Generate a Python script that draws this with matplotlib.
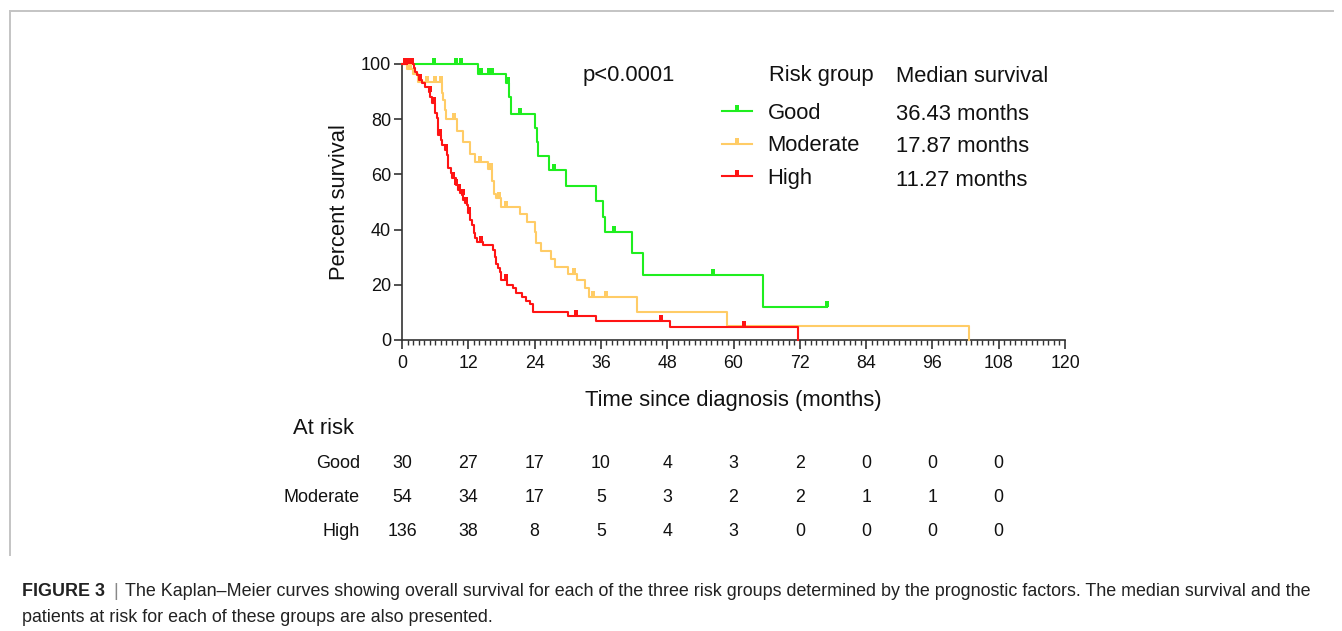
import numpy as np
import matplotlib
matplotlib.use("Agg")
import matplotlib.pyplot as plt
from matplotlib.path import Path
from matplotlib.lines import Line2D
from matplotlib.transforms import blended_transform_factory

plt.rcParams['font.family'] = ['Liberation Sans', 'DejaVu Sans']

W, H = 1342, 631

# ---------------- data ----------------
groups = ["Good", "Moderate", "High"]
colors = ["#1FEE1F", "#FFCC66", "#FF1414"]
medians = ["36.43 months", "17.87 months", "11.27 months"]

good_t = [13.8, 18.9, 19.4, 19.8, 24.1, 24.4, 24.7, 26.6, 29.6, 35.1, 36.4, 36.8, 41.7, 43.6, 65.3]
good_s = [96.3, 93.0, 87.9, 82.0, 76.7, 71.8, 66.8, 61.6, 55.8, 50.2, 44.7, 39.0, 31.4, 23.4, 12.0]
good_end = 77.0
good_cens = [5.8, 9.7, 10.7, 14.3, 15.7, 16.3, 19.1, 21.4, 27.5, 38.4, 56.2, 77.0]

mod_t = [0.9, 2.0, 2.9, 7.2, 7.4, 7.7, 8.0, 10.0, 11.1, 12.3, 13.2, 15.5, 16.3, 16.6, 17.0,
         17.9, 21.4, 22.6, 24.1, 24.3, 25.1, 27.0, 27.7, 30.0, 31.6, 33.1, 33.9, 42.5, 58.8, 102.6]
mod_s = [98.1, 96.3, 93.5, 89.5, 87.0, 83.5, 80.0, 75.8, 71.9, 67.5, 64.6, 62.0, 57.5, 53.0, 51.3,
         48.3, 45.7, 42.9, 39.0, 35.2, 32.4, 29.3, 26.6, 23.8, 21.7, 18.7, 15.5, 10.3, 5.2, 0.0]
mod_end = 102.6
mod_cens = [0.6, 1.4, 4.5, 6.0, 7.1, 9.4, 14.2, 16.1, 17.6, 18.8, 31.2, 34.6, 37.0]

high_t = [2.1, 2.4, 2.7, 3.1, 3.6, 4.2, 4.8, 5.1, 5.4, 5.9, 6.3, 6.5, 6.6, 7.0, 7.2, 7.7, 8.1,
          8.3, 8.4, 8.8, 9.1, 9.7, 10.2, 10.5, 10.8, 11.1, 11.4, 11.7, 12.0, 12.3, 12.7, 13.0,
          13.3, 13.5, 14.7, 16.5, 16.8, 17.1, 17.4, 17.7, 18.0, 19.0, 20.0, 20.6, 21.7, 22.5,
          23.2, 23.8, 30.0, 35.1, 48.5, 71.7]
high_s = [98.4, 97.0, 96.0, 94.2, 93.0, 91.5, 90.0, 88.0, 85.8, 82.1, 80.3, 77.0, 74.3, 72.5,
          70.7, 69.0, 67.0, 64.5, 62.2, 60.4, 58.6, 56.2, 54.3, 53.4, 52.5, 50.7, 49.5, 48.9,
          45.9, 43.5, 41.7, 38.7, 37.0, 35.6, 34.4, 32.6, 30.2, 27.5, 26.0, 24.7, 21.7, 19.9,
          18.7, 16.9, 15.5, 14.2, 13.0, 10.3, 8.8, 7.0, 4.8, 0.0]
high_end = 71.7
high_cens = [0.5, 1.1, 1.8, 3.3, 5.0, 5.8, 6.9, 7.9, 9.3, 9.7, 10.4, 11.0, 11.6, 12.2,
             14.3, 18.8, 31.5, 46.8, 61.9]

risk_times = [0, 12, 24, 36, 48, 60, 72, 84, 96, 108]
risk_good = [30, 27, 17, 10, 4, 3, 2, 0, 0, 0]
risk_mod = [54, 34, 17, 5, 3, 2, 2, 1, 1, 0]
risk_high = [136, 38, 8, 5, 4, 3, 0, 0, 0, 0]

x_ticks = list(range(0, 121, 12))
y_ticks = [0, 20, 40, 60, 80, 100]

caption_bold = "FIGURE 3"
caption_l1 = ("The Kaplan\u2013Meier curves showing overall survival for each of the three risk groups "
              "determined by the prognostic factors. The median survival and the")
caption_l2 = "patients at risk for each of these groups are also presented."

# ---------------- helpers ----------------
def fx(px):
    return px / W

def fy(py):
    return 1 - py / H

cens_marker = Path([(-0.3, 0), (0.3, 0), (0.3, 1), (-0.3, 1), (-0.3, 0)],
                   [Path.MOVETO, Path.LINETO, Path.LINETO, Path.LINETO, Path.CLOSEPOLY])

fig = plt.figure(figsize=(W / 100, H / 100), dpi=100)
fig.patch.set_facecolor("white")

# frame around figure panel
fig.add_artist(Line2D([fx(9.5), fx(1333)], [fy(10.5), fy(10.5)], transform=fig.transFigure,
                      color="#c4c4c4", lw=1.4))
fig.add_artist(Line2D([fx(9.5), fx(9.5)], [fy(10.5), fy(555)], transform=fig.transFigure,
                      color="#c4c4c4", lw=1.4))

ax = fig.add_axes([fx(402), fy(340), (1065 - 402) / W, (340 - 64) / H])
ax.set_xlim(0, 120)
ax.set_ylim(0, 100)

series = [
    (good_t, good_s, good_end, good_cens),
    (mod_t, mod_s, mod_end, mod_cens),
    (high_t, high_s, high_end, high_cens),
]

MS = 9
handles = []
for (t, s, end, cens), col, name in zip(series, colors, groups):
    xs = np.array([0.0] + list(t))
    ys = np.array([100.0] + list(s))
    if end > xs[-1]:
        xs = np.append(xs, end)
        ys = np.append(ys, ys[-1])
    ax.plot(xs, ys, drawstyle="steps-post", color=col, lw=1.5, clip_on=False, zorder=3)
    ct = np.array(cens)
    idx = np.searchsorted(xs, ct, side="right") - 1
    cy = ys[idx]
    ax.plot(ct, cy, linestyle="none", marker=cens_marker, ms=MS, mew=0,
            color=col, clip_on=False, zorder=4)
    handles.append(Line2D([0], [0], color=col, lw=1.5, marker=cens_marker, ms=MS, mew=0))

# axes styling
for side in ["top", "right"]:
    ax.spines[side].set_visible(False)
for side in ["left", "bottom"]:
    ax.spines[side].set_color("#333333")
    ax.spines[side].set_linewidth(1.2)

ax.set_xticks(x_ticks)
ax.set_xticks(np.arange(0, 121, 1), minor=True)
ax.set_yticks(y_ticks)
ax.tick_params(axis="x", which="major", direction="out", length=6.5, width=1.2,
               color="#333333", labelsize=12.8, pad=4, labelcolor="#111111")
ax.tick_params(axis="x", which="minor", direction="out", length=3.5, width=1.0, color="#333333")
ax.tick_params(axis="y", which="major", direction="out", length=6, width=1.2,
               color="#333333", labelsize=13, pad=2, labelcolor="#111111")

ax.set_xlabel("Time since diagnosis (months)", fontsize=15.8, color="#111111", labelpad=13)
ax.set_ylabel("Percent survival", fontsize=15.8, color="#111111", labelpad=7.5)

# p-value and legend
fig.text(fx(583), fy(76), "p<0.0001", fontsize=15.8, va="center", ha="left", color="#111111")
fig.text(fx(769), fy(76), "Risk group", fontsize=15.8, va="center", ha="left", color="#111111")
fig.text(fx(896), fy(76), "Median survival", fontsize=15.8, va="center", ha="left", color="#111111")

leg = ax.legend(handles, groups, loc="upper left", bbox_to_anchor=(fx(722), fy(103)),
                bbox_transform=fig.transFigure, frameon=False, fontsize=15.8,
                handlelength=1.36, handletextpad=0.72, labelspacing=0.52,
                borderpad=0, borderaxespad=0, numpoints=1)
for txt in leg.get_texts():
    txt.set_color("#111111")

row_y = [114, 147, 180]
for m, yy in zip(medians, row_y):
    fig.text(fx(896), fy(yy), m, fontsize=15.8, va="center", ha="left", color="#111111")

# at-risk table
fig.text(fx(293), fy(428), "At risk", fontsize=15.8, va="center", ha="left", color="#111111")
trans = blended_transform_factory(ax.transData, fig.transFigure)
table_rows = [("Good", risk_good, 464), ("Moderate", risk_mod, 497), ("High", risk_high, 532)]
for name, vals, yy in table_rows:
    fig.text(fx(360), fy(yy), name, fontsize=13, va="center", ha="right", color="#111111")
    for tt, v in zip(risk_times, vals):
        ax.text(tt, fy(yy), str(v), transform=trans, fontsize=12.8, va="center", ha="center",
                color="#111111", clip_on=False)

# caption
CAP = 12.9
fig.text(fx(22), fy(592), caption_bold, fontsize=CAP, fontweight="bold", va="center",
         ha="left", color="#222222")
fig.text(fx(113), fy(592), "|", fontsize=CAP, va="center", ha="left", color="#888888")
fig.text(fx(125), fy(592), caption_l1, fontsize=CAP, va="center", ha="left", color="#222222")
fig.text(fx(22), fy(617), caption_l2, fontsize=CAP, va="center", ha="left", color="#222222")

fig.savefig("out.png", dpi=100, facecolor="white")
